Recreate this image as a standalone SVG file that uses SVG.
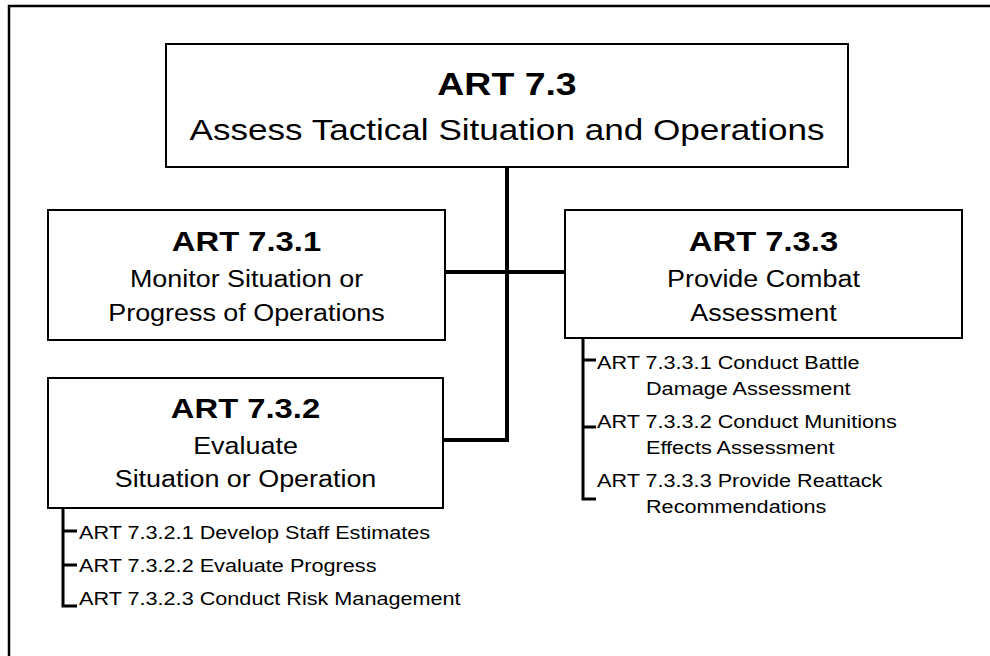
<svg xmlns="http://www.w3.org/2000/svg" width="990" height="656" viewBox="0 0 990 656">
<style>
text{font-family:"Liberation Sans",Arial,Helvetica,sans-serif;fill:#000}
.box{fill:#fff;stroke:#000;stroke-width:2}
.id{font-weight:bold;font-size:28px}
.t{font-size:23px}
.it{font-size:18.5px}
.conn{fill:none;stroke:#000;stroke-width:4}
.br{fill:none;stroke:#000;stroke-width:3}
</style>
<rect x="0" y="0" width="990" height="656" fill="#fff"/>
<rect x="9" y="6" width="1000" height="700" fill="none" stroke="#000" stroke-width="2.5"/>
<g id="connectors">
<path class="conn" d="M507 167V440H443"/>
<path class="conn" d="M445 272H565"/>
</g>
<g id="art73">
<rect class="box" x="166" y="44" width="682" height="123"/>
<text transform="translate(507,95) scale(1.17,1)" text-anchor="middle" style="font-weight:bold;font-size:32px">ART 7.3</text>
<text transform="translate(507,140) scale(1.17,1)" text-anchor="middle" style="font-size:30px">Assess Tactical Situation and Operations</text>
</g>
<g id="art731">
<rect class="box" x="48" y="210" width="397" height="130"/>
<text class="id" transform="translate(246.5,251) scale(1.17,1)" text-anchor="middle">ART 7.3.1</text>
<text class="t" transform="translate(246.5,287) scale(1.17,1)" text-anchor="middle">Monitor Situation or</text>
<text class="t" transform="translate(246.5,321) scale(1.17,1)" text-anchor="middle">Progress of Operations</text>
</g>
<g id="art733">
<rect class="box" x="565" y="210" width="397" height="128"/>
<text class="id" transform="translate(763.5,251) scale(1.17,1)" text-anchor="middle">ART 7.3.3</text>
<text class="t" transform="translate(763.5,287) scale(1.17,1)" text-anchor="middle">Provide Combat</text>
<text class="t" transform="translate(763.5,321) scale(1.17,1)" text-anchor="middle">Assessment</text>
</g>
<g id="art732">
<rect class="box" x="48" y="378" width="395" height="130"/>
<text class="id" transform="translate(245.5,418) scale(1.17,1)" text-anchor="middle">ART 7.3.2</text>
<text class="t" transform="translate(245.5,454) scale(1.17,1)" text-anchor="middle">Evaluate</text>
<text class="t" transform="translate(245.5,487) scale(1.17,1)" text-anchor="middle">Situation or Operation</text>
</g>
<g id="art732-items">
<path class="br" d="M63 508V606H77M63 531H77M63 565H77"/>
<text class="it" transform="translate(79,539) scale(1.17,1)">ART 7.3.2.1 Develop Staff Estimates</text>
<text class="it" transform="translate(79,572) scale(1.17,1)">ART 7.3.2.2 Evaluate Progress</text>
<text class="it" transform="translate(79,605) scale(1.17,1)">ART 7.3.2.3 Conduct Risk Management</text>
</g>
<g id="art733-items">
<path class="br" d="M583 338V499H596M583 360H596M583 427H596"/>
<text class="it" transform="translate(597,369) scale(1.17,1)">ART 7.3.3.1 Conduct Battle</text>
<text class="it" transform="translate(646,395) scale(1.17,1)">Damage Assessment</text>
<text class="it" transform="translate(597,428) scale(1.17,1)">ART 7.3.3.2 Conduct Munitions</text>
<text class="it" transform="translate(646,454) scale(1.17,1)">Effects Assessment</text>
<text class="it" transform="translate(597,487) scale(1.17,1)">ART 7.3.3.3 Provide Reattack</text>
<text class="it" transform="translate(646,513) scale(1.17,1)">Recommendations</text>
</g>
</svg>
